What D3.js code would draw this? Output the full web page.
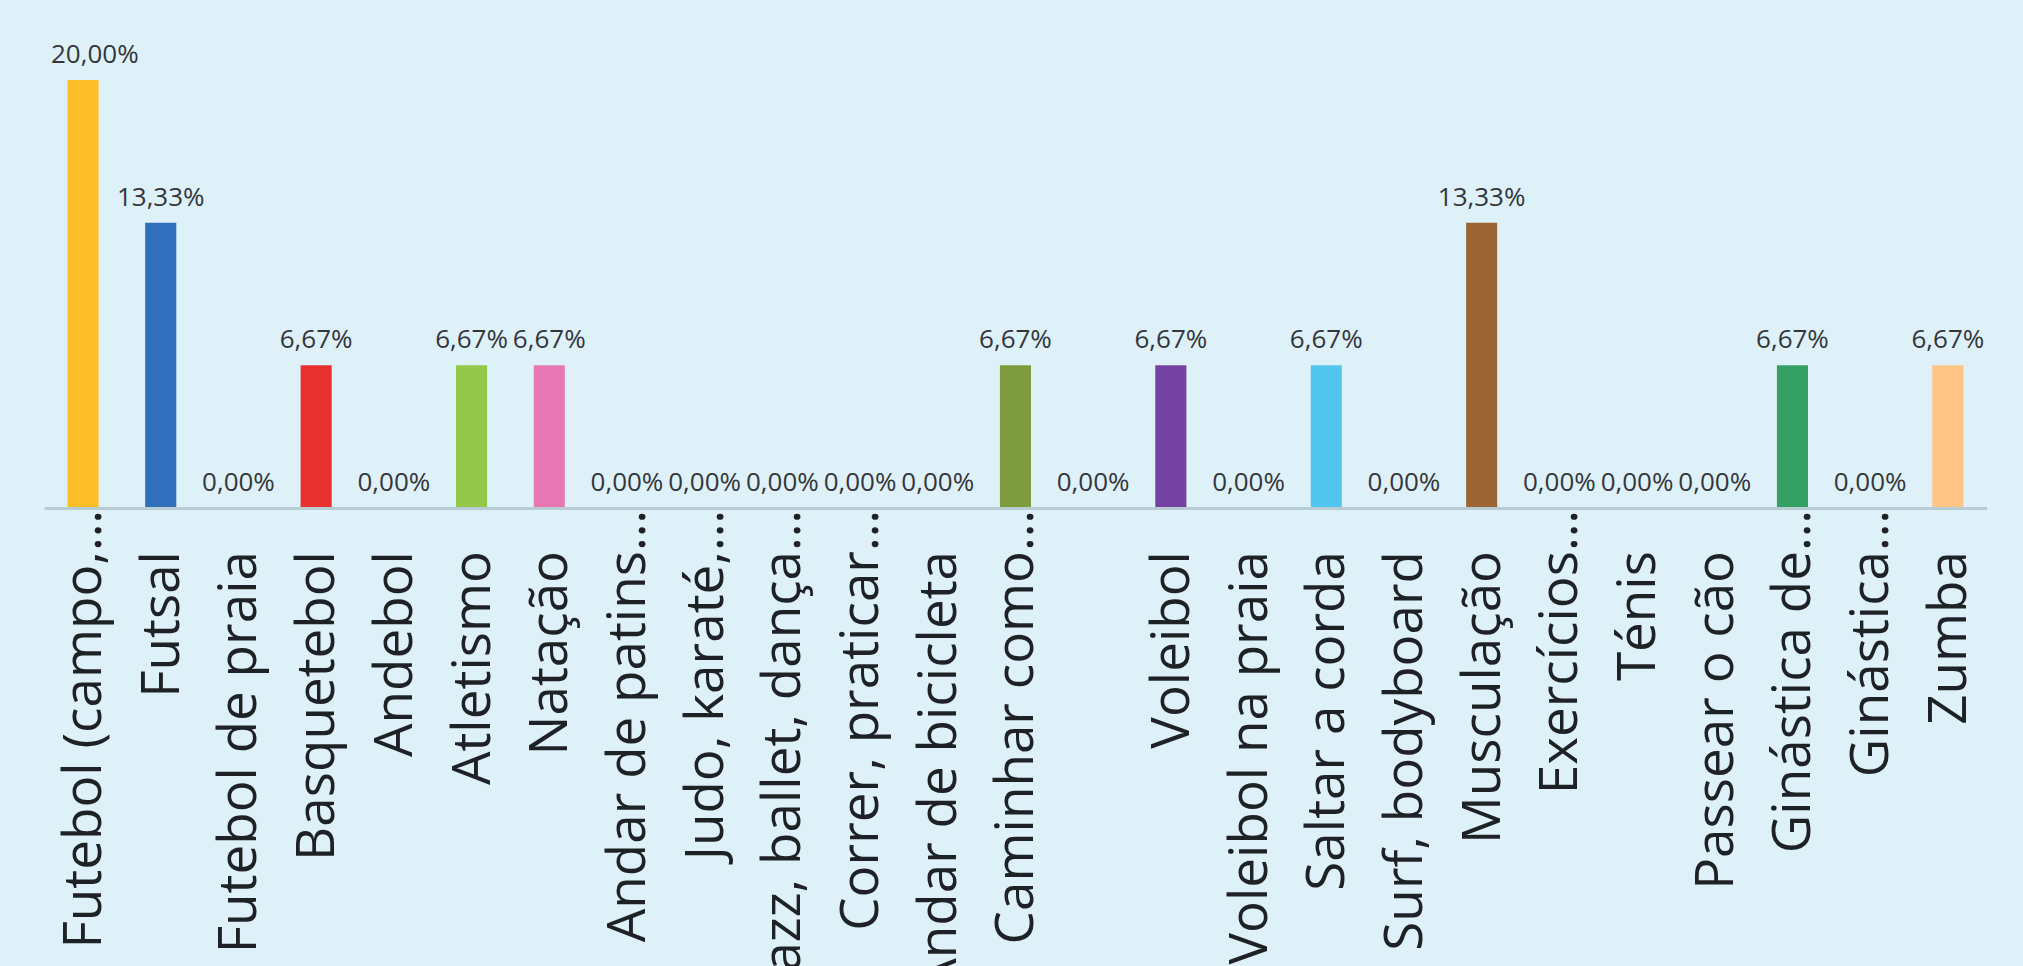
<!DOCTYPE html>
<html>
<head>
<meta charset="utf-8">
<script src="https://cdn.jsdelivr.net/npm/d3@7"></script>
<style>
  html, body { margin: 0; padding: 0; background: #DFF1F8; overflow: hidden; }
  svg { display: block; }
</style>
</head>
<body>
<svg id="chart" width="2023" height="966"></svg>
<script>
const categories = [
  "Futebol (campo,…", "Futsal", "Futebol de praia", "Basquetebol", "Andebol",
  "Atletismo", "Natação", "Andar de patins…", "Judo, karaté,…", "Jazz, ballet, dança…",
  "Correr, praticar…", "Andar de bicicleta", "Caminhar como…", "", "Voleibol",
  "Voleibol na praia", "Saltar a corda", "Surf, bodyboard", "Musculação", "Exercícios…",
  "Ténis", "Passear o cão", "Ginástica de…", "Ginástica…", "Zumba"
];
const values = [
  20.00, 13.33, 0, 6.67, 0,
  6.67, 6.67, 0, 0, 0,
  0, 0, 6.67, 0, 6.67,
  0, 6.67, 0, 13.33, 0,
  0, 0, 6.67, 0, 6.67
];
const colors = [
  "#FDBE28", "#2F6FBC", "#9E9E9E", "#E8302F", "#9E9E9E",
  "#93C84B", "#E677B3", "#9E9E9E", "#9E9E9E", "#9E9E9E",
  "#9E9E9E", "#9E9E9E", "#7E9B3D", "#9E9E9E", "#7442A0",
  "#9E9E9E", "#52C6EF", "#9E9E9E", "#9C6634", "#9E9E9E",
  "#9E9E9E", "#9E9E9E", "#34A063", "#9E9E9E", "#FFC586"
];

const svg = d3.select("#chart");
const idx = d3.range(categories.length);

const x = d3.scaleBand().domain(idx).range([44.2, 1986.7]).paddingInner(0.6).paddingOuter(0.3);
const y = d3.scaleLinear().domain([0, 20]).range([508, 80]);

const fmt = v => d3.format(".2f")(v).replace(".", ",") + "%";

// bars
svg.append("g").selectAll("rect").data(idx).join("rect")
  .attr("x", i => x(i))
  .attr("y", i => y(values[i]))
  .attr("width", x.bandwidth())
  .attr("height", i => y(0) - y(values[i]))
  .attr("fill", i => colors[i]);

// axis line
const axisG = svg.append("g").attr("transform", `translate(0,${y(0)})`)
  .call(d3.axisBottom(x).tickSize(0).tickFormat(""));
axisG.select(".domain").attr("stroke", "#B8CCD4").attr("stroke-width", 3);

// value labels
const vl = svg.append("g")
  .attr("font-family", "'Open Sans', sans-serif")
  .attr("font-size", 26)
  .attr("fill", "#33373C");
vl.selectAll("text").data(idx).join("text")
  .attr("text-anchor", "middle")
  .attr("y", i => y(values[i]) - 17)
  .text(i => fmt(values[i]))
  .attr("x", function(i) {
    const w = this.getComputedTextLength();
    const c = x(i) + x.bandwidth() / 2;
    return Math.max(c, 51 + w / 2);
  });

// category labels (rotated)
const cl = svg.append("g")
  .attr("font-family", "'Open Sans', sans-serif")
  .attr("font-size", 53)
  .attr("fill", "#1E2226");
const probe = cl.append("text").text("…");
const ellW = probe.node().getComputedTextLength();
probe.remove();
cl.selectAll("text").data(idx).join("text")
  .attr("text-anchor", "end")
  .attr("transform", i => {
    const cx = x(i) + x.bandwidth() / 2 + 18;
    const yEnd = categories[i].endsWith("…") ? 549 - ellW + 2 : 551;
    return `translate(${cx},${yEnd}) rotate(-90)`;
  })
  .text(i => categories[i]);
</script>
</body>
</html>
